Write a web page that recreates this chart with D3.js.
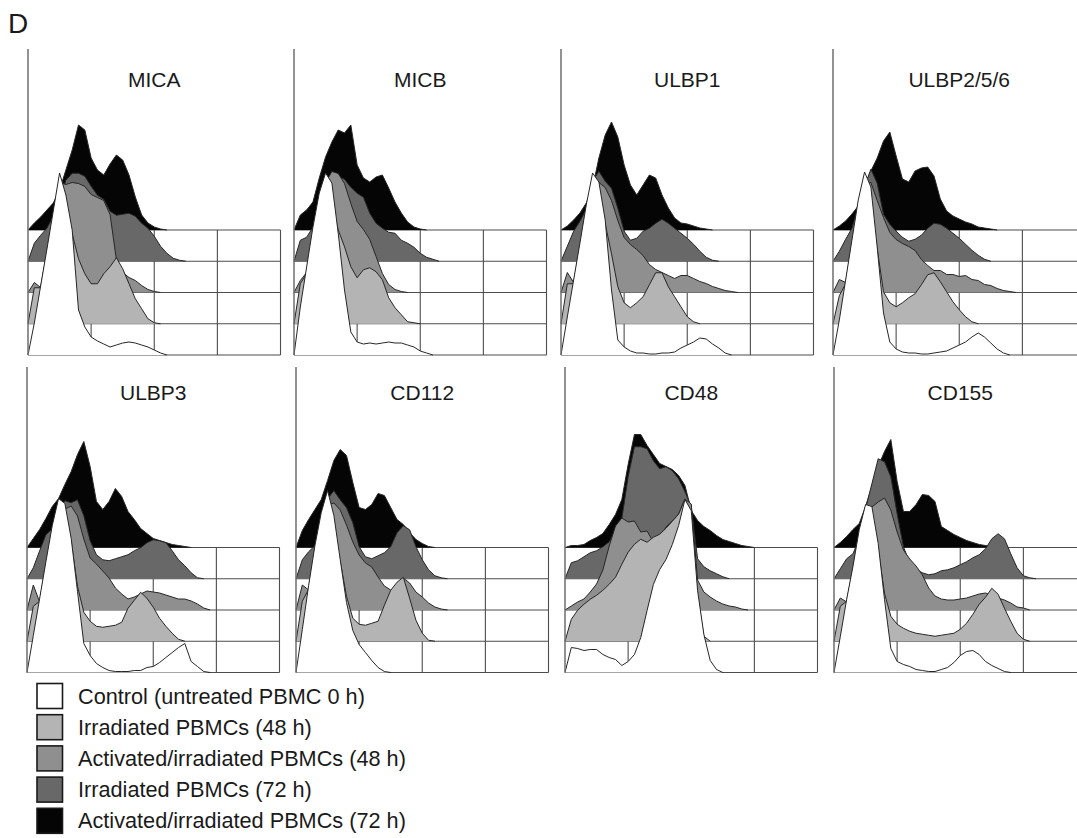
<!DOCTYPE html>
<html>
<head>
<meta charset="utf-8">
<script src="https://cdn.jsdelivr.net/npm/d3@7"></script>
<style>
  body { margin: 0; background: #fff; }
  text { font-family: "Liberation Sans", Arial, Helvetica, sans-serif; fill: #1a1a1a; }
</style>
</head>
<body>
<script>
const logBins = [0,0.1,0.2,0.3,0.4,0.5,0.6,0.7,0.8,0.9,1.0,1.1,1.2,1.3,1.4,1.5,1.6,1.7,1.8,1.9,2.0,
  2.1,2.2,2.3,2.4,2.5,2.6,2.7,2.8,2.9,3.0,3.1,3.2];

const markers = ["MICA", "MICB", "ULBP1", "ULBP2/5/6", "ULBP3", "CD112", "CD48", "CD155"];

const conditions = [
  "Control (untreated PBMC 0 h)",
  "Irradiated PBMCs (48 h)",
  "Activated/irradiated PBMCs (48 h)",
  "Irradiated PBMCs (72 h)",
  "Activated/irradiated PBMCs (72 h)"
];

// event counts per bin, one list per condition (same order as conditions)
const MICA = [
  [0,32,69,106,144,182,160,125,45,28,18,14,11,8,10,12,13,12,10,8,5,2,0],
  [0,36,36,72,108,125,118,90,65,50,40,40,50,57,66,55,40,25,15,5,1,0],
  [0,10,5,40,78,110,108,110,109,106,98,95,92,78,33,20,15,12,7,3,1,0],
  [0,18,26,33,45,60,81,88,88,85,75,66,62,50,46,47,48,45,38,33,25,15,8,3,1,0],
  [0,7,13,20,27,40,60,80,105,100,72,60,55,66,75,70,55,33,15,7,3,1,0]
];
const MICB = [
  [0,48,88,128,162,182,172,122,65,23,13,11,12,11,12,13,12,12,10,8,4,2,0],
  [0,40,50,90,125,130,120,94,77,57,46,54,56,52,44,26,16,9,2,1,0],
  [0,12,20,60,95,110,121,119,109,89,71,63,53,36,19,8,3,1,0],
  [0,21,24,34,50,65,80,85,82,74,68,64,48,38,33,29,28,21,18,14,8,4,2,0],
  [0,15,20,28,52,73,88,100,97,105,65,52,48,53,55,42,28,17,8,3,1,0]
];
const ULBP1 = [
  [0,38,75,112,150,182,173,135,65,15,8,4,2,2,1,1,2,2,3,7,10,13,17,16,11,7,2,0],
  [0,40,40,78,115,135,125,100,70,37,21,16,21,27,39,51,51,37,27,17,7,2,0],
  [0,20,10,45,85,108,110,105,92,72,55,48,43,37,28,23,20,17,14,17,17,14,11,9,6,4,2,1,0],
  [0,15,30,40,52,80,90,80,73,53,30,21,23,30,33,38,42,38,33,28,23,17,10,4,1,0],
  [0,4,10,17,27,42,72,95,108,93,65,45,35,45,55,52,35,22,12,7,6,4,2,1,0]
];
const ULBP256 = [
  [0,35,75,115,155,183,168,108,42,13,6,3,2,2,1,1,2,3,4,7,10,13,18,22,18,12,6,2,0],
  [0,28,40,80,118,125,115,75,32,21,17,21,26,30,39,49,51,42,32,22,14,7,2,0],
  [0,13,10,48,88,110,110,92,75,60,53,49,46,42,33,27,22,22,18,18,16,17,13,12,8,7,4,2,1,0],
  [0,10,22,33,55,75,92,78,47,37,30,24,20,22,26,33,38,37,33,28,23,17,11,6,2,0],
  [0,4,9,16,24,44,59,72,89,98,74,51,48,59,62,63,54,31,19,14,11,8,6,3,2,1,0]
];
const ULBP3 = [
  [0,37,74,111,147,174,169,134,81,29,17,9,5,2,1,1,1,2,2,5,6,10,15,20,25,29,11,6,1,0],
  [0,35,40,77,113,125,115,100,55,29,20,15,14,15,16,19,33,41,49,43,34,23,15,8,2,0],
  [0,25,8,45,80,100,101,104,94,71,52,46,39,32,22,16,11,13,16,19,18,17,15,13,11,11,9,6,2,0],
  [0,11,28,44,50,70,78,76,79,63,38,24,19,18,20,22,24,28,31,36,39,38,36,28,19,13,6,1,0],
  [0,9,18,29,41,49,63,76,93,106,81,46,38,46,59,51,36,28,19,14,9,7,5,3,2,1,0]
];
const CD112 = [
  [0,43,87,127,160,182,157,113,70,42,28,20,12,5,1,0],
  [0,40,52,92,125,125,110,80,45,23,17,16,18,20,36,51,59,64,43,21,8,1,0],
  [0,25,20,60,95,105,107,100,85,68,55,47,43,33,24,20,23,32,27,18,13,7,3,1,0],
  [0,19,27,33,60,80,88,79,71,56,32,22,20,23,26,32,46,53,49,32,19,9,3,1,0],
  [0,17,28,38,48,67,87,98,92,65,40,38,43,54,52,40,28,23,15,8,4,1,0]
];
const CD48 = [
  [0,25,24,22,23,23,18,15,13,7,11,18,35,62,88,103,113,128,147,173,162,82,38,12,3,0],
  [0,22,31,37,42,46,51,57,64,77,89,97,102,99,104,107,113,120,127,142,128,45,5,0],
  [0,4,8,11,18,26,40,64,84,92,88,89,78,79,68,73,83,89,96,111,106,30,18,13,9,6,4,3,1,0],
  [0,16,18,22,26,28,32,37,48,60,102,132,132,130,118,110,112,108,100,87,72,20,12,8,5,2,0],
  [0,2,2,3,7,10,14,23,33,48,83,113,113,102,93,84,81,78,72,62,37,27,21,17,12,8,6,4,2,1,0]
];
const CD155 = [
  [0,36,73,106,143,168,166,129,73,24,11,8,6,3,2,1,1,3,5,10,17,21,22,18,11,7,4,1,0],
  [0,35,40,72,108,118,108,92,48,25,17,13,10,8,7,6,5,6,7,8,12,18,27,37,44,53,47,33,20,8,2,0],
  [0,12,8,40,78,100,103,108,112,100,78,60,51,44,35,22,14,11,10,10,11,12,14,16,17,15,12,10,7,3,2,0],
  [0,10,20,25,40,70,95,120,117,102,65,32,16,9,6,4,5,8,9,11,14,17,21,24,30,40,45,40,25,11,3,1,0],
  [0,5,11,18,24,41,61,81,96,108,66,36,36,43,53,52,46,21,17,13,10,7,5,3,2,1,0]
];

const histograms = [MICA, MICB, ULBP1, ULBP256, ULBP3, CD112, CD48, CD155];

// layout
const fills = ["#ffffff", "#b4b4b4", "#8f8f8f", "#686868", "#050505"];
const panelLeft = [28, 294, 561, 833, 27, 296, 565, 834];
const rowBottom = [355, 672.5];
const axisTop = [49, 367];
const titleY = [87, 400];
const offset = 31.25;

const svg = d3.select("body").append("svg")
  .attr("width", 1077)
  .attr("height", 838);

const x = d3.scaleLinear().domain([0, 4]).range([0, 252.5]);
const y = d3.scaleLinear().domain([0, 200]).range([0, 200]);

svg.append("text")
  .attr("x", 8)
  .attr("y", 33)
  .attr("font-size", 28)
  .text("D");

markers.forEach((name, k) => {
  const row = Math.floor(k / 4);
  const g = svg.append("g")
    .attr("transform", `translate(${panelLeft[k]}, ${rowBottom[row]})`);

  const top = -offset * (conditions.length - 1);

  // offset grid, drawn behind everything
  const grid = g.append("g")
    .attr("stroke", "#4d4d4d")
    .attr("stroke-width", 1.1)
    .attr("fill", "none");
  conditions.forEach((c, i) => {
    grid.append("line")
      .attr("x1", 0).attr("x2", x(4))
      .attr("y1", -offset * i).attr("y2", -offset * i);
  });
  [1, 2, 3, 4].forEach(t => {
    grid.append("line")
      .attr("x1", x(t)).attr("x2", x(t))
      .attr("y1", top).attr("y2", 0);
  });

  // histograms from the back (72 h activated) to the front (control)
  const hist = histograms[k];
  for (let i = hist.length - 1; i >= 0; i--) {
    const base = -offset * i;
    const pts = hist[i].map((v, j) => [logBins[j], v]);
    const area = d3.area()
      .x(d => x(d[0]))
      .y0(base)
      .y1(d => base - y(d[1]));
    const line = d3.line()
      .x(d => x(d[0]))
      .y(d => base - y(d[1]));
    g.append("path")
      .attr("d", area(pts))
      .attr("fill", fills[i]);
    g.append("path")
      .attr("d", line(pts))
      .attr("fill", "none")
      .attr("stroke", "#262626")
      .attr("stroke-width", 1);
  }

  // count axis
  g.append("line")
    .attr("x1", 0).attr("x2", 0)
    .attr("y1", axisTop[row] - rowBottom[row]).attr("y2", 0)
    .attr("stroke", "#6e6e6e")
    .attr("stroke-width", 1.5);

  g.append("text")
    .attr("x", x(2))
    .attr("y", titleY[row] - rowBottom[row])
    .attr("text-anchor", "middle")
    .attr("font-size", 21)
    .text(name);
});

// legend
const legend = svg.append("g").attr("transform", "translate(37, 683.5)");
conditions.forEach((c, i) => {
  legend.append("rect")
    .attr("x", 0)
    .attr("y", i * 31.2)
    .attr("width", 25.5)
    .attr("height", 25)
    .attr("fill", fills[i])
    .attr("stroke", "#1a1a1a")
    .attr("stroke-width", 1.6);
  legend.append("text")
    .attr("x", 41)
    .attr("y", i * 31.2 + 20)
    .attr("font-size", 21.7)
    .text(c);
});
</script>
</body>
</html>
